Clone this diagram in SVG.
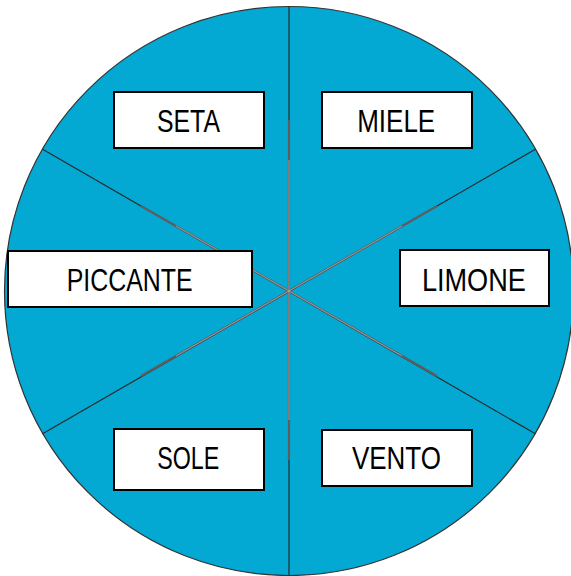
<svg xmlns="http://www.w3.org/2000/svg" width="571" height="576" viewBox="0 0 571 576">
  <style>
    .wheel { fill: #03A8D3; stroke: #333333; stroke-width: 1.2; }
    .spoke { stroke: #2a2a2a; stroke-width: 1.2; fill: none; }
    .spoke-in { stroke: #5e5e5e; stroke-width: 2.2; fill: none; }
    .spoke-hi { stroke: #b8b8b8; stroke-width: 0.7; fill: none; }
    .box { fill: #ffffff; stroke: #000000; stroke-width: 2; }
    .lbl { font-family: "Liberation Sans", Arial, sans-serif; font-size: 31px; fill: #000000; text-anchor: middle; }
  </style>
  <rect width="571" height="576" fill="#ffffff"/>
  <g id="wheel">
    <circle class="wheel" cx="289" cy="291" r="284.5"/>
  </g>
  <g id="connectors">
    <line class="spoke" x1="289" y1="6.5" x2="289" y2="575.5"/>
    <line class="spoke" x1="42.6" y1="149.2" x2="535.4" y2="433.8"/>
    <line class="spoke" x1="42.6" y1="433.8" x2="535.4" y2="149.2"/>
    <line class="spoke-in" x1="289" y1="120" x2="289" y2="460"/>
    <line class="spoke-in" x1="141" y1="206" x2="437" y2="376"/>
    <line class="spoke-in" x1="141" y1="376" x2="437" y2="206"/>
    <line class="spoke-hi" x1="289" y1="160" x2="289" y2="420"/>
    <line class="spoke-hi" x1="176" y1="226" x2="402" y2="356"/>
    <line class="spoke-hi" x1="176" y1="356" x2="402" y2="226"/>
  </g>
  <g id="node-seta">
    <rect class="box" x="114" y="92" width="150" height="56"/>
    <text class="lbl" x="188.5" y="132" textLength="63" lengthAdjust="spacingAndGlyphs">SETA</text>
  </g>
  <g id="node-miele">
    <rect class="box" x="322" y="92" width="150" height="56"/>
    <text class="lbl" x="396.2" y="132" textLength="78" lengthAdjust="spacingAndGlyphs">MIELE</text>
  </g>
  <g id="node-piccante">
    <rect class="box" x="8" y="251" width="244" height="56"/>
    <text class="lbl" x="129.7" y="291" textLength="126" lengthAdjust="spacingAndGlyphs">PICCANTE</text>
  </g>
  <g id="node-limone">
    <rect class="box" x="400" y="250" width="149" height="56"/>
    <text class="lbl" x="473.9" y="291" textLength="104" lengthAdjust="spacingAndGlyphs">LIMONE</text>
  </g>
  <g id="node-sole">
    <rect class="box" x="114" y="429" width="150" height="61"/>
    <text class="lbl" x="188.3" y="469" textLength="62" lengthAdjust="spacingAndGlyphs">SOLE</text>
  </g>
  <g id="node-vento">
    <rect class="box" x="322" y="430" width="150" height="56"/>
    <text class="lbl" x="396.4" y="469" textLength="89" lengthAdjust="spacingAndGlyphs">VENTO</text>
  </g>
</svg>
